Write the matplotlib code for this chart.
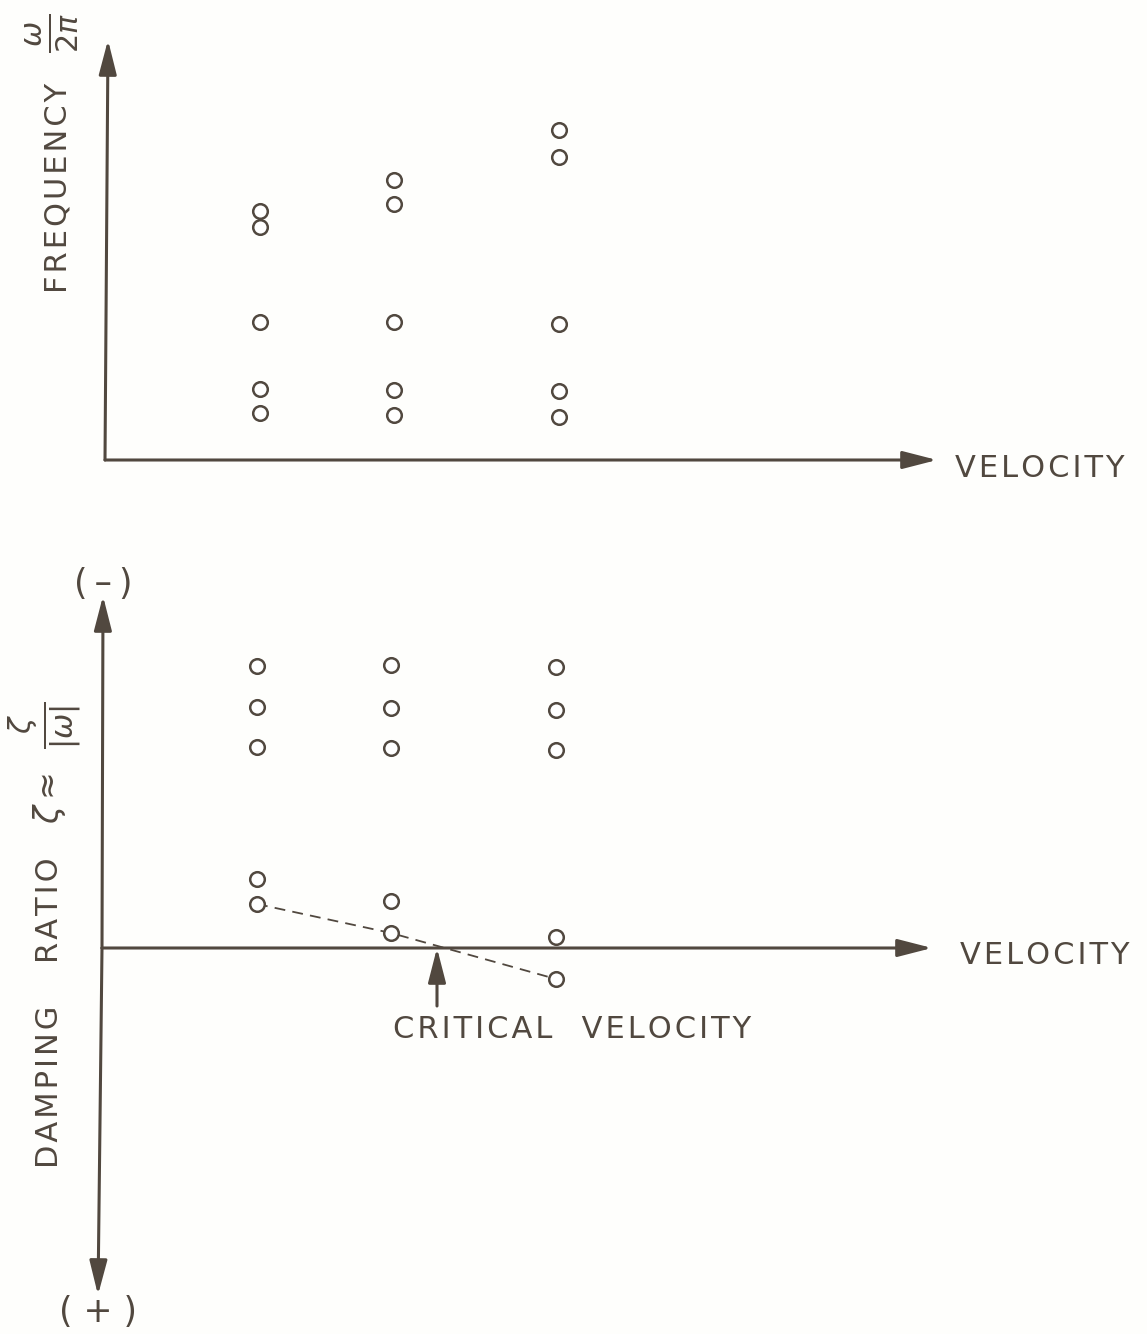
import numpy as np
import matplotlib
matplotlib.use("Agg")
import matplotlib.pyplot as plt

INK = "#51483f"
plt.rcParams['font.family'] = ['DejaVu Sans']

# velocity stations (same three test speeds in both panels)
velocity = [1.55, 2.89, 4.54]

# frequency  w/2pi, five modes per velocity
freq_v1 = [2.49, 2.33, 1.38, 0.71, 0.47]
freq_v2 = [2.80, 2.56, 1.38, 0.70, 0.45]
freq_v3 = [3.30, 3.03, 1.36, 0.69, 0.43]

# damping ratio, (-) up / (+) down
damp_v1 = [2.82, 2.41, 2.01, 0.69, 0.44]
damp_v2 = [2.83, 2.40, 2.00, 0.47, 0.15]
damp_v3 = [2.81, 2.38, 1.98, 0.11, -0.31]

# the mode that goes unstable (dashed trend)
crit_mode = [damp_v1[4], damp_v2[4], damp_v3[4]]
critical_velocity = 3.35

W, H = 1147, 1334
fig = plt.figure(figsize=(W / 100, H / 100), dpi=100)
fig.patch.set_facecolor("#fefefc")

# top panel: 1 data unit = 100 px, origin at pixel (105, 460)
ax1 = fig.add_axes([0, (H - 510) / H, 1, 510 / H])
ax1.set_xlim(-1.05, (W - 105) / 100)
ax1.set_ylim(-0.5, 4.6)
# bottom panel: origin at pixel (102, 948)
ax2 = fig.add_axes([0, 0, 1, (H - 510) / H])
ax2.set_xlim(-1.02, (W - 102) / 100)
ax2.set_ylim((948 - H) / 100, (948 - 510) / 100)
for ax in (ax1, ax2):
    ax.axis("off")
    ax.patch.set_alpha(0)

arrow = dict(arrowstyle="-|>,head_length=1.4,head_width=0.36", color=INK,
             lw=2.2, mutation_scale=15, shrinkA=0, shrinkB=0)

# axes of top panel
ax1.annotate("", xy=(0.03, 4.20), xytext=(0, 0), arrowprops=arrow)
ax1.annotate("", xy=(8.32, 0.0), xytext=(0, 0), arrowprops=arrow)

# axes of bottom panel
ax2.annotate("", xy=(0.01, 3.52), xytext=(0, 0), arrowprops=arrow)
ax2.annotate("", xy=(-0.04, -3.47), xytext=(0, 0), arrowprops=arrow)
ax2.annotate("", xy=(8.30, 0.0), xytext=(0, 0), arrowprops=arrow)

mk = dict(marker="o", ms=10.5, mfc="white", mec=INK, mew=1.8, ls="none", zorder=3)
for v, f in zip(velocity, [freq_v1, freq_v2, freq_v3]):
    ax1.plot([v] * len(f), f, **mk)
for v, d in zip(velocity, [damp_v1, damp_v2, damp_v3]):
    ax2.plot([v] * len(d), d, **mk)

ax2.plot(velocity, crit_mode, ls=(0, (6, 4)), color=INK, lw=1.3, zorder=2)

# critical velocity pointer
ax2.annotate("", xy=(critical_velocity, 0.0), xytext=(critical_velocity, -0.58),
             arrowprops=arrow)


def spaced(s):
    return "\u200a".join(s)


txt = dict(color=INK, fontsize=22)
ax1.text(8.50, -0.09, spaced("VELOCITY"), ha="left", va="center", **txt)
ax1.text(-0.47, 2.72, spaced("FREQUENCY"), rotation=90, ha="center", va="center", **txt)
ax1.text(-0.53, 4.27, r"$\frac{\omega}{2\pi}$", rotation=90, ha="center", va="center",
         color=INK, fontsize=31)

ax2.text(8.58, -0.07, spaced("VELOCITY"), ha="left", va="center", **txt)
ax2.text(4.70, -0.82, spaced("CRITICAL") + "   " + spaced("VELOCITY"),
         ha="center", va="center", **txt)
ax2.text(-0.52, -1.39, spaced("DAMPING"), rotation=90, ha="center", va="center", **txt)
ax2.text(-0.52, 0.38, spaced("RATIO"), rotation=90, ha="center", va="center", **txt)
ax2.text(-0.52, 1.50, r"$\zeta\approx$", rotation=90, ha="center", va="center",
         color=INK, fontsize=24)
ax2.text(-0.57, 2.23, r"$\frac{\zeta}{|\omega|}$", rotation=90, ha="center", va="center",
         color=INK, fontsize=31)
ax2.text(0.01, 3.64, "(\u2009\u2013\u2009)", ha="center", va="center", color=INK, fontsize=25)
ax2.text(-0.04, -3.64, "( + )", ha="center", va="center", color=INK, fontsize=25)

fig.savefig("out.png", dpi=100, facecolor=fig.get_facecolor())
